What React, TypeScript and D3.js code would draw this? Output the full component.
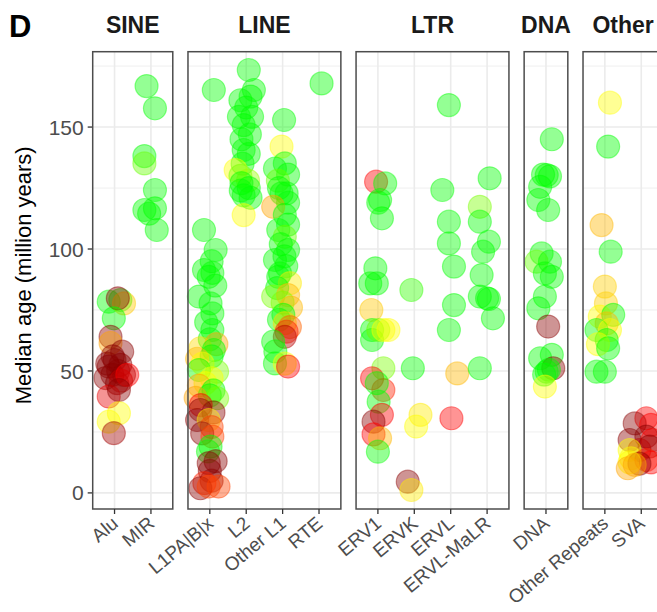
import React from "react";
import * as d3 from "d3";

// facets and their categories
const families = ["SINE", "LINE", "LTR", "DNA", "Other"];
const sineCats = ["Alu", "MIR"];
const lineCats = ["L1PA|B|x", "L2", "Other L1", "RTE"];
const ltrCats = ["ERV1", "ERVK", "ERVL", "ERVL-MaLR"];
const dnaCats = ["DNA"];
const otherCats = ["Other Repeats", "SVA"];

const yTicks = [0, 50, 100, 150];
const yMinor = [25, 75, 125, 175];

// [category, median age, shade (0 green .. 1 dark red), jitter]
type Pt = [string, number, number, number];

const sinePoints: Pt[] = [
  ["MIR", 166.8, 0, -0.12], ["MIR", 157.7, 0, 0.11], ["MIR", 138.1, 0, -0.18],
  ["MIR", 135.1, 0.1, -0.18], ["MIR", 124.2, 0, 0.11], ["MIR", 116, 0, -0.18],
  ["MIR", 116.7, 0, 0.11], ["MIR", 114.5, 0, -0.05], ["MIR", 107.8, 0, 0.16],
  ["Alu", 78.4, 0, -0.16], ["Alu", 79.1, 0, 0.16], ["Alu", 77.7, 0.4, 0.26],
  ["Alu", 79.8, 1, 0.09], ["Alu", 71.6, 0, -0.02], ["Alu", 64, 1, -0.11],
  ["Alu", 61.5, 0.5, -0.11], ["Alu", 57.9, 1, 0.21], ["Alu", 54.5, 1, 0],
  ["Alu", 56, 1, -0.05], ["Alu", 53, 1, -0.2], ["Alu", 50, 1, 0.1],
  ["Alu", 51.8, 1, -0.16], ["Alu", 52.5, 1, 0.16], ["Alu", 48.4, 1, -0.06],
  ["Alu", 48.4, 1, 0.26], ["Alu", 47.1, 1, -0.25], ["Alu", 45, 1, 0.07],
  ["Alu", 46, 0.9, 0.18], ["Alu", 48.4, 0.75, 0.35], ["Alu", 39.5, 0.8, -0.16],
  ["Alu", 42.2, 1, 0.12], ["Alu", 32.7, 0.25, 0.12], ["Alu", 29.2, 0.25, -0.16],
  ["Alu", 24.5, 0.95, -0.02],
];

const linePoints: Pt[] = [
  ["L1PA|B|x", 165.2, 0, 0.11], ["L1PA|B|x", 107.8, 0, -0.16], ["L1PA|B|x", 99.6, 0, 0.16],
  ["L1PA|B|x", 95, 0, 0.05], ["L1PA|B|x", 91.4, 0, -0.16], ["L1PA|B|x", 90.2, 0, 0.07],
  ["L1PA|B|x", 88.6, 0, -0.03], ["L1PA|B|x", 85, 0, 0.15], ["L1PA|B|x", 80.5, 0, -0.3],
  ["L1PA|B|x", 77.7, 0, 0.02], ["L1PA|B|x", 73.6, 0, 0.07], ["L1PA|B|x", 70, 0, -0.1],
  ["L1PA|B|x", 66.8, 0, 0.07], ["L1PA|B|x", 63, 0, 0], ["L1PA|B|x", 61, 0.5, 0.18],
  ["L1PA|B|x", 59.3, 0.35, -0.26], ["L1PA|B|x", 58.6, 0, 0.11], ["L1PA|B|x", 56, 0, 0.05],
  ["L1PA|B|x", 55, 0.45, -0.35], ["L1PA|B|x", 53, 0.25, -0.2], ["L1PA|B|x", 50.4, 0, -0.3],
  ["L1PA|B|x", 49.7, 0.12, 0.2], ["L1PA|B|x", 47, 0.25, 0.05], ["L1PA|B|x", 45, 0.25, -0.12],
  ["L1PA|B|x", 44, 0.5, -0.3], ["L1PA|B|x", 42, 0, 0.1], ["L1PA|B|x", 40, 0, 0],
  ["L1PA|B|x", 39, 0.5, -0.39], ["L1PA|B|x", 38.8, 0.12, 0.2], ["L1PA|B|x", 36, 0.75, -0.25],
  ["L1PA|B|x", 34, 1, -0.26], ["L1PA|B|x", 33, 1, 0.1], ["L1PA|B|x", 29.9, 1, -0.35],
  ["L1PA|B|x", 29.9, 0.3, -0.03], ["L1PA|B|x", 27, 0.65, 0.05], ["L1PA|B|x", 24.4, 1, -0.21],
  ["L1PA|B|x", 23.1, 0.65, 0.07], ["L1PA|B|x", 19, 0, 0.02], ["L1PA|B|x", 17, 0, -0.05],
  ["L1PA|B|x", 13, 1, 0.16], ["L1PA|B|x", 12.2, 1, -0.03], ["L1PA|B|x", 9, 1, 0],
  ["L1PA|B|x", 5, 1, 0.05], ["L1PA|B|x", 4, 0.7, -0.15], ["L1PA|B|x", 1.9, 1, -0.26],
  ["L1PA|B|x", 2.6, 0.65, -0.03], ["L1PA|B|x", 2.6, 0.65, 0.24],
  ["L2", 173.4, 0, 0.07], ["L2", 165.2, 0, 0.21], ["L2", 161, 0, -0.16],
  ["L2", 162.5, 0, 0.12], ["L2", 158, 0, 0], ["L2", 154.2, 0, -0.2],
  ["L2", 154.2, 0, 0.16], ["L2", 150.8, 0, -0.07], ["L2", 147, 0, 0.1],
  ["L2", 145, 0, -0.13], ["L2", 140.6, 0, -0.07], ["L2", 139, 0, 0.07],
  ["L2", 135, 0, -0.1], ["L2", 132.4, 0.25, -0.29], ["L2", 130, 0.12, -0.16],
  ["L2", 128, 0.15, 0.05], ["L2", 127, 0, -0.13], ["L2", 125, 0, 0.07],
  ["L2", 124, 0, -0.15], ["L2", 122, 0, -0.07], ["L2", 121, 0, 0.12],
  ["L2", 113.9, 0.25, -0.07],
  ["Other L1", 152.9, 0, 0.04], ["Other L1", 142, 0.25, -0.03], ["Other L1", 135.1, 0, 0.06],
  ["Other L1", 133, 0, -0.21], ["Other L1", 130.5, 0, 0.15], ["Other L1", 128, 0.1, -0.13],
  ["Other L1", 125, 0, -0.1], ["Other L1", 122.8, 0, 0.11], ["Other L1", 122.8, 0, -0.03],
  ["Other L1", 119, 0, 0.15], ["Other L1", 117.3, 0.5, -0.26], ["Other L1", 114, 0, 0.06],
  ["Other L1", 110, 0, 0.15], ["Other L1", 107.8, 0, -0.12], ["Other L1", 105, 0.1, 0.06],
  ["Other L1", 102, 0, -0.05], ["Other L1", 99.6, 0, 0.15], ["Other L1", 97, 0, 0.05],
  ["Other L1", 95.5, 0, -0.21], ["Other L1", 93, 0, 0.1], ["Other L1", 90, 0, -0.07],
  ["Other L1", 88.6, 0, -0.12], ["Other L1", 86, 0.3, 0.2], ["Other L1", 84, 0, -0.15],
  ["Other L1", 80.5, 0.12, -0.26], ["Other L1", 81.1, 0.45, 0.15], ["Other L1", 78, 0.12, 0],
  ["Other L1", 76, 0.45, 0.23], ["Other L1", 73, 0, 0.02], ["Other L1", 71, 0, -0.1],
  ["Other L1", 69.6, 0.35, 0.06], ["Other L1", 68, 0.6, 0.2], ["Other L1", 66.1, 0.7, 0.11],
  ["Other L1", 64, 0.9, 0.06], ["Other L1", 62, 0, -0.26], ["Other L1", 58, 0, -0.2],
  ["Other L1", 53.1, 0, -0.21], ["Other L1", 53, 0.25, 0.06], ["Other L1", 51.8, 0.75, 0.15],
  ["RTE", 167.9, 0, 0.07],
];

const ltrPoints: Pt[] = [
  ["ERV1", 127.6, 0.75, -0.05], ["ERV1", 126.9, 0, 0.2], ["ERV1", 120.1, 0, 0.06],
  ["ERV1", 119, 0, 0.01], ["ERV1", 112.6, 0, 0.11], ["ERV1", 92.1, 0, -0.07],
  ["ERV1", 85.9, 0, -0.21], ["ERV1", 85.9, 0, -0.03], ["ERV1", 75, 0.4, -0.18],
  ["ERV1", 66.8, 0, -0.16], ["ERV1", 62.7, 0, -0.16], ["ERV1", 66.8, 0.1, 0.01],
  ["ERV1", 66.8, 0.25, 0.15], ["ERV1", 66.8, 0.25, 0.29], ["ERV1", 51.1, 0.12, 0.15],
  ["ERV1", 47, 0.75, -0.16], ["ERV1", 42.2, 0.7, 0.15], ["ERV1", 45, 0, -0.03],
  ["ERV1", 37.4, 0, 0.02], ["ERV1", 32, 0.75, 0.11], ["ERV1", 29.2, 1, -0.12],
  ["ERV1", 24, 0.75, -0.12], ["ERV1", 22.4, 0.45, 0.06], ["ERV1", 16.9, 0, 0],
  ["ERVK", 83.2, 0.05, -0.08], ["ERVK", 51.1, 0, -0.04], ["ERVK", 32, 0.3, 0.17],
  ["ERVK", 27.2, 0.25, 0.05], ["ERVK", 4.6, 1, -0.18], ["ERVK", 1.2, 0.3, -0.08],
  ["ERVL", 159, 0, -0.05], ["ERVL", 124.2, 0, -0.23], ["ERVL", 111.2, 0, -0.05],
  ["ERVL", 102.3, 0, -0.05], ["ERVL", 92.8, 0, 0.09], ["ERVL", 77, 0, 0.09],
  ["ERVL", 66.8, 0, -0.05], ["ERVL", 49, 0.45, 0.18], ["ERVL", 30.6, 0.75, 0.02],
  ["ERVL-MaLR", 129, 0, 0.07], ["ERVL-MaLR", 117.3, 0.12, -0.2], ["ERVL-MaLR", 111.2, 0, -0.2],
  ["ERVL-MaLR", 103, 0, 0.05], ["ERVL-MaLR", 98.9, 0, -0.11], ["ERVL-MaLR", 89.3, 0, -0.15],
  ["ERVL-MaLR", 80.5, 0, -0.2], ["ERVL-MaLR", 79.8, 0, 0], ["ERVL-MaLR", 79.5, 0, 0.05],
  ["ERVL-MaLR", 71.6, 0, 0.16], ["ERVL-MaLR", 51.1, 0, -0.2],
];

const dnaPoints: Pt[] = [
  ["DNA", 145, 0, 0.16], ["DNA", 130.3, 0, 0.02], ["DNA", 130.5, 0, -0.08],
  ["DNA", 129.8, 0, 0.11], ["DNA", 125.5, 0, -0.16], ["DNA", 120.1, 0, -0.21],
  ["DNA", 116, 0, 0.06], ["DNA", 98.2, 0, -0.12], ["DNA", 94.8, 0.1, -0.26],
  ["DNA", 94.8, 0, 0.11], ["DNA", 90, 0, -0.03], ["DNA", 88.6, 0, 0.16],
  ["DNA", 80.5, 0, -0.03], ["DNA", 75.7, 0, -0.21], ["DNA", 68.2, 1, 0.06],
  ["DNA", 55.2, 0, -0.16], ["DNA", 56.6, 0, 0.16], ["DNA", 51.1, 1, 0.2],
  ["DNA", 49.7, 0, 0.02], ["DNA", 48.5, 0, -0.05], ["DNA", 50.5, 0, 0.08],
  ["DNA", 43.6, 0.25, -0.03],
];

const otherPoints: Pt[] = [
  ["Other Repeats", 160, 0.25, 0.14], ["Other Repeats", 142, 0, 0.09],
  ["Other Repeats", 109.8, 0.45, -0.09], ["Other Repeats", 98.9, 0, 0.16],
  ["Other Repeats", 84.6, 0.38, 0], ["Other Repeats", 77.7, 0.38, 0.03],
  ["Other Repeats", 72.3, 0.25, -0.14], ["Other Repeats", 73, 0, 0.23],
  ["Other Repeats", 69.5, 0.45, 0.05], ["Other Repeats", 66.8, 0, -0.23],
  ["Other Repeats", 66.8, 0.25, 0.14], ["Other Repeats", 62.7, 0, 0.05],
  ["Other Repeats", 61, 0.25, -0.19], ["Other Repeats", 59.3, 0, 0.09],
  ["Other Repeats", 49.7, 0, -0.23], ["Other Repeats", 49.7, 0, 0],
  ["SVA", 30.6, 0.75, 0.14], ["SVA", 28.5, 1, -0.18], ["SVA", 27.9, 0.75, 0.27],
  ["SVA", 21.7, 1, -0.32], ["SVA", 23.1, 1, 0.14], ["SVA", 21.7, 0.75, 0.31],
  ["SVA", 19, 1, 0.23], ["SVA", 17.6, 0.9, -0.05], ["SVA", 17.6, 0.25, -0.32],
  ["SVA", 14.2, 0.25, -0.28], ["SVA", 13.5, 0.7, 0.14], ["SVA", 12.5, 0.75, 0.27],
  ["SVA", 12, 1, -0.05], ["SVA", 12.5, 0.25, -0.32], ["SVA", 11.5, 0.5, -0.18],
  ["SVA", 10.1, 0.5, -0.37],
];

const catsList = [sineCats, lineCats, ltrCats, dnaCats, otherCats];
const pointsList = [sinePoints, linePoints, ltrPoints, dnaPoints, otherPoints];

const W = 657;
const H = 612;
const panelTop = 51.7;
const panelBottom = 509;
const left0 = 92.7;
const unit = 36.4;
const gap = 15.2;
const font = "'Liberation Sans', Arial, Helvetica, sans-serif";

const y = d3.scaleLinear().domain([-6.6, 180.9]).range([panelBottom, panelTop]);
const color = d3
  .scaleLinear<string>()
  .domain([0, 0.25, 0.5, 0.75, 1])
  .range(["#00ff00", "#ffff00", "#ffa500", "#ff0000", "#8b0000"]);

export default function App() {
  let cursor = left0;
  const panels = families.map((fam, i) => {
    const cats = catsList[i];
    const w = (cats.length + 0.2) * unit;
    const x = d3.scalePoint<string>().domain(cats).range([cursor, cursor + w]).padding(0.6);
    const p = { fam, cats, x, x0: cursor, x1: cursor + w, points: pointsList[i] };
    cursor += w + gap;
    return p;
  });

  return (
    <svg
      width={W}
      height={H}
      style={{ position: "absolute", left: 0, top: 0, background: "#fff" }}
      fontFamily={font}
    >
      <text x={9} y={37} fontSize={31} fontWeight="bold">D</text>

      {/* y axis */}
      <text
        transform={`translate(31,${(panelTop + panelBottom) / 2 - 5}) rotate(-90)`}
        textAnchor="middle"
        fontSize={22}
        fill="#000"
      >
        Median age (million years)
      </text>
      {yTicks.map((t) => (
        <g key={t}>
          <line x1={left0 - 5} x2={left0} y1={y(t)} y2={y(t)} stroke="#333" strokeWidth={1.3} />
          <text x={left0 - 9} y={y(t)} dy="0.36em" textAnchor="end" fontSize={21} fill="#4d4d4d">
            {t}
          </text>
        </g>
      ))}

      {panels.map((p) => (
        <g key={p.fam}>
          <text
            x={(p.x0 + p.x1) / 2}
            y={33}
            textAnchor="middle"
            fontSize={23}
            fontWeight="bold"
            fill="#1a1a1a"
          >
            {p.fam}
          </text>
          <rect x={p.x0} y={panelTop} width={p.x1 - p.x0} height={panelBottom - panelTop} fill="#fff" />
          {yMinor.map((t) => (
            <line key={"m" + t} x1={p.x0} x2={p.x1} y1={y(t)} y2={y(t)} stroke="#efefef" strokeWidth={1} />
          ))}
          {yTicks.map((t) => (
            <line key={"M" + t} x1={p.x0} x2={p.x1} y1={y(t)} y2={y(t)} stroke="#ebebeb" strokeWidth={1.6} />
          ))}
          {p.cats.map((c) => (
            <line key={c} x1={p.x(c)} x2={p.x(c)} y1={panelTop} y2={panelBottom} stroke="#ebebeb" strokeWidth={1.6} />
          ))}
          {p.points.map((d, i) => {
            const c = color(d[2]);
            return (
              <circle
                key={i}
                cx={(p.x(d[0]) as number) + d[3] * p.x.step()}
                cy={y(d[1])}
                r={11.5}
                fill={c}
                fillOpacity={0.42}
                stroke={c}
                strokeOpacity={0.42}
                strokeWidth={1.2}
              />
            );
          })}
          <rect
            x={p.x0}
            y={panelTop}
            width={p.x1 - p.x0}
            height={panelBottom - panelTop}
            fill="none"
            stroke="#4d4d4d"
            strokeWidth={1.5}
          />
          {p.cats.map((c) => {
            const cx = p.x(c) as number;
            return (
              <g key={"t" + c}>
                <line x1={cx} x2={cx} y1={panelBottom} y2={panelBottom + 5} stroke="#333" strokeWidth={1.3} />
                <text
                  transform={`translate(${cx - 4},${panelBottom + 6}) rotate(-40)`}
                  textAnchor="end"
                  dy="0.72em"
                  fontSize={19}
                  fill="#4d4d4d"
                >
                  {c}
                </text>
              </g>
            );
          })}
        </g>
      ))}
    </svg>
  );
}
